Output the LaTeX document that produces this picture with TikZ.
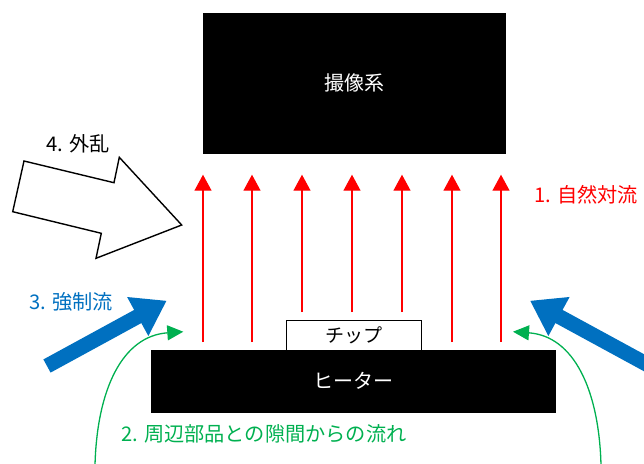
\documentclass[tikz,border=0pt]{standalone}
\usepackage{fontspec}
\setmainfont{Noto Sans CJK JP}
\usetikzlibrary{arrows.meta}
\definecolor{natred}{RGB}{255,0,0}
\definecolor{offblue}{RGB}{0,112,192}
\definecolor{offgreen}{RGB}{0,176,80}
\tikzset{
  blackbox/.style={draw=black, fill=black, text=white, font=\fontsize{20}{23}\selectfont, inner sep=0pt},
  chipbox/.style={draw=black, line width=1pt, fill=white, font=\fontsize{19}{22}\selectfont, inner sep=0pt},
  lbl/.style={anchor=west, inner sep=0pt, font=\fontsize{20.2}{23}\selectfont},
  convarrow/.style={draw=natred, line width=1.3pt, -{Triangle[length=16pt,width=17pt]}},
  forcedarrow/.style={draw=offblue, line width=15pt, -{Triangle[length=33pt,width=42pt]}},
  gaparrow/.style={draw=offgreen, line width=1.3pt, -{Triangle[length=16pt,width=15pt]}},
  hollowarrow/.style={draw=black, line width=1.4pt, fill=white, line join=miter}
}
\begin{document}
\begin{tikzpicture}[x=1pt,y=-1pt]
\useasboundingbox (0,0) rectangle (644,463);
\clip (0,0) rectangle (644,463);

% main boxes
\node[blackbox, minimum width=302pt, minimum height=140pt] (camera) at (354,83) {撮像系};
\node[blackbox, minimum width=404pt, minimum height=62pt] (heater) at (353,381) {ヒーター};
\node[chipbox, minimum width=135pt, minimum height=30pt] (chip) at (353.5,335) {チップ};

% natural convection arrows
\foreach \xx/\yb in {203/342, 252/342, 302/312, 352/312, 402/312, 452/342, 501/342} {
  \draw[convarrow] (\xx,\yb) -- (\xx,174.7);
}

% forced flow
\coordinate (fl0) at (47,366);
\coordinate (fl1) at (166.7,300.7);
\coordinate (fr0) at (650,366);
\coordinate (fr1) at (530,300.7);
\draw[forcedarrow] (fl0) -- (fl1);
\draw[forcedarrow] (fr0) -- (fr1);

% gap flows
\coordinate (gl0) at (95,465);
\coordinate (gl1) at (183.3,331.7);
\coordinate (gr0) at (601,465);
\coordinate (gr1) at (513,331.7);
\draw[gaparrow] (gl0) .. controls (97,390) and (122,336) .. (gl1);
\draw[gaparrow] (gr0) .. controls (599,390) and (574,336) .. (gr1);

% disturbance (hollow arrow)
\draw[hollowarrow] (24,161) -- (114,182.7) -- (119.3,157.3) -- (181.7,225) -- (96,258.3) -- (101.3,233.3) -- (12.7,211.7) -- cycle;

% labels
\node[lbl, text=natred] (l1) at (534,195) {1. 自然対流};
\node[lbl, text=offgreen] (l2) at (121,434) {2. 周辺部品との隙間からの流れ};
\node[lbl, text=offblue] (l3) at (29,302) {3. 強制流};
\node[lbl, text=black] (l4) at (46,144) {4. 外乱};
\end{tikzpicture}
\end{document}
